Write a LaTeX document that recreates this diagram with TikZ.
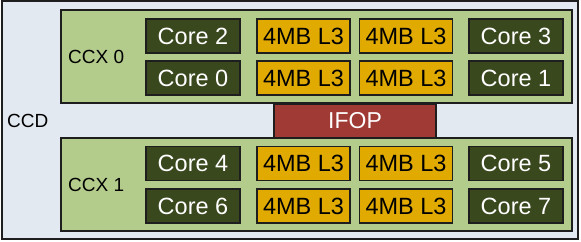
\documentclass[tikz,border=0pt]{standalone}
\usepackage{fontspec}
\setmainfont{Liberation Sans}
\definecolor{ccdbg}{RGB}{227,233,240}
\definecolor{ccxbg}{RGB}{179,203,139}
\definecolor{corebg}{RGB}{58,72,30}
\definecolor{cachebg}{RGB}{224,170,0}
\definecolor{ifopbg}{RGB}{160,58,53}
\definecolor{edge}{RGB}{30,30,30}
\tikzset{
  core/.style={draw=edge, line width=1.2pt, fill=corebg, text=white,
    minimum width=94pt, minimum height=34pt, inner sep=0pt,
    font=\fontsize{23.5}{26}\selectfont},
  cache/.style={draw=edge, line width=1.2pt, fill=cachebg, text=black,
    minimum width=93pt, minimum height=34pt, inner sep=0pt,
    font=\fontsize{23.5}{26}\selectfont},
  ccxbox/.style={draw=edge, line width=1.2pt, fill=ccxbg,
    minimum width=511pt, minimum height=93pt, inner sep=0pt},
  lbl/.style={anchor=west, inner sep=0pt, font=\fontsize{19}{22}\selectfont},
}
\begin{document}
\begin{tikzpicture}[x=1pt, y=-1pt]
    \useasboundingbox (0,0) rectangle (581,241);
    % die outline
    \draw[draw=edge, line width=1.3pt, fill=ccdbg] (2,1) rectangle (578,239);
    \node[lbl] (ccd) at (7,121) {CCD};
    % core complexes
    \node[ccxbox] (ccx0) at (316.5,56.5) {};
    \node[ccxbox] (ccx1) at (316.5,184.5) {};
    \node[lbl] (ccx0lbl) at (68,57) {CCX 0};
    \node[lbl] (ccx1lbl) at (68,185) {CCX 1};
    % infinity fabric
    \node[draw=edge, line width=1.2pt, fill=ifopbg, text=white,
      minimum width=162pt, minimum height=34pt, inner sep=0pt,
      font=\fontsize{23}{26}\selectfont] (ifop) at (355,121) {IFOP};
    % CCX 0
    \node[core] (core2) at (193,36) {Core 2};
    \node[core] (core0) at (193,78) {Core 0};
    \node[cache] (l3a) at (303.5,36) {4MB L3};
    \node[cache] (l3b) at (406,36) {4MB L3};
    \node[cache] (l3c) at (303.5,78) {4MB L3};
    \node[cache] (l3d) at (406,78) {4MB L3};
    \node[core] (core3) at (516,36) {Core 3};
    \node[core] (core1) at (516,78) {Core 1};
    % CCX 1
    \node[core] (core4) at (193,163.5) {Core 4};
    \node[core] (core6) at (193,206) {Core 6};
    \node[cache] (l3e) at (303.5,163.5) {4MB L3};
    \node[cache] (l3f) at (406,163.5) {4MB L3};
    \node[cache] (l3g) at (303.5,206) {4MB L3};
    \node[cache] (l3h) at (406,206) {4MB L3};
    \node[core] (core5) at (516,163.5) {Core 5};
    \node[core] (core7) at (516,206) {Core 7};
\end{tikzpicture}
\end{document}
